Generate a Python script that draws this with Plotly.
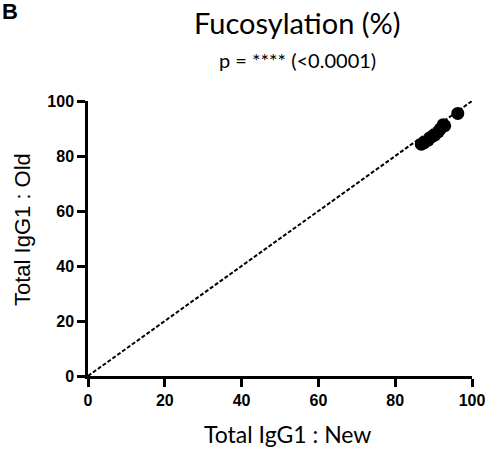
import plotly.graph_objects as go

new_vals = [86.8, 87.5, 88.6, 89.5, 90.3, 91.2, 91.8, 92.5, 92.9, 96.3]
old_vals = [84.3, 84.8, 85.8, 87.0, 87.6, 88.8, 89.9, 91.4, 91.0, 95.5]
identity_x = [0, 100]
identity_y = [0, 100]
ticks = [0, 20, 40, 60, 80, 100]

L, R, T, B = 88, 27, 101, 77
W, H = 499, 453
pw, ph = W - L - R, H - T - B


def px_x(p):
    return (p - L) / pw


def px_y(p):
    return 1 - (p - T) / ph


fig = go.Figure()
fig.add_trace(go.Scatter(x=identity_x, y=identity_y, mode="lines",
                         line=dict(color="black", width=2, dash="4px,2px"),
                         hoverinfo="skip", showlegend=False))
fig.add_trace(go.Scatter(x=new_vals, y=old_vals, mode="markers",
                         marker=dict(color="black", size=13),
                         showlegend=False, cliponaxis=False))

axis_common = dict(range=[0, 100], tickvals=ticks, showgrid=False, zeroline=False,
                   showline=True, linecolor="black", linewidth=2.5, automargin=False,
                   ticks="outside", ticklen=8, tickwidth=2.5, tickcolor="black",
                   tickfont=dict(family="Liberation Sans", size=16, color="black", weight="bold"))

fig.update_layout(
    width=W, height=H, plot_bgcolor="white", paper_bgcolor="white",
    margin=dict(l=L, r=R, t=T, b=B, autoexpand=False),
    xaxis=dict(**axis_common),
    yaxis=dict(**axis_common),
    annotations=[
        dict(text="Fucosylation (%)", xref="paper", yref="paper",
             x=px_x(297), y=px_y(23), xanchor="center", yanchor="middle",
             showarrow=False, font=dict(family="Lato", size=29, color="black")),
        dict(text="p = **** (<0.0001)", xref="paper", yref="paper",
             x=px_x(297), y=px_y(60), xanchor="center", yanchor="middle",
             showarrow=False, font=dict(family="Lato", size=20, color="black")),
        dict(text="Total IgG1 : New", xref="paper", yref="paper",
             x=px_x(287), y=px_y(434), xanchor="center", yanchor="middle",
             showarrow=False, font=dict(family="Lato", size=23, color="black")),
        dict(text="Total IgG1 : Old", xref="paper", yref="paper", textangle=-90,
             x=px_x(22), y=px_y(230), xanchor="center", yanchor="middle",
             showarrow=False, font=dict(family="Liberation Sans", size=22, color="black")),
        dict(text="<b>B</b>", xref="paper", yref="paper",
             x=px_x(0), y=px_y(11), xanchor="left", yanchor="middle",
             showarrow=False, font=dict(family="Liberation Sans", size=22, color="black")),
    ],
)
fig.write_html("out.html", config={"displayModeBar": False},
               post_script="document.body.style.margin='0';document.body.style.overflow='hidden';")
